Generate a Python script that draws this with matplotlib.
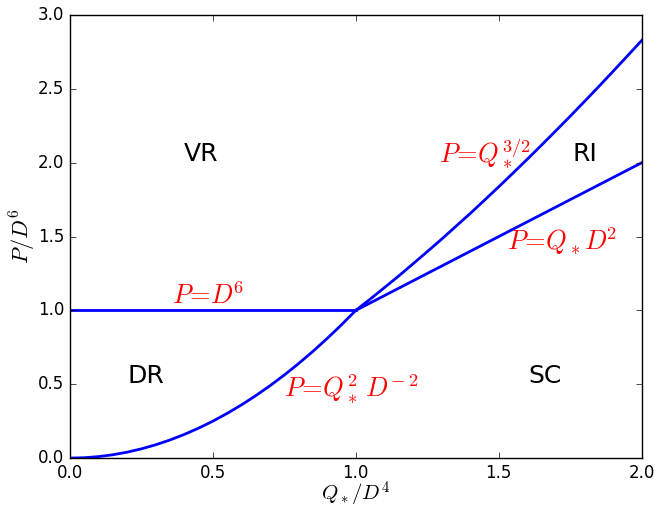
import matplotlib
matplotlib.use("Agg")
import matplotlib.pyplot as plt

plt.style.use("classic")
plt.rcParams["mathtext.fontset"] = "cm"

# boundary P = D^6 (horizontal)
flat_x = [0.0, 1.0]
flat_y = [1.0, 1.0]

# boundary P = Q^2 D^-2
low_x = [0.0, 0.05, 0.1, 0.15, 0.2, 0.25, 0.3, 0.35, 0.4, 0.45, 0.5,
         0.55, 0.6, 0.65, 0.7, 0.75, 0.8, 0.85, 0.9, 0.95, 1.0]
low_y = [0.0, 0.0025, 0.01, 0.0225, 0.04, 0.0625, 0.09, 0.1225, 0.16, 0.2025, 0.25,
         0.3025, 0.36, 0.4225, 0.49, 0.5625, 0.64, 0.7225, 0.81, 0.9025, 1.0]

# boundary P = Q^(3/2)
up_x = [1.0, 1.05, 1.1, 1.15, 1.2, 1.25, 1.3, 1.35, 1.4, 1.45, 1.5,
        1.55, 1.6, 1.65, 1.7, 1.75, 1.8, 1.85, 1.9, 1.95, 2.0]
up_y = [1.0, 1.076, 1.154, 1.233, 1.315, 1.398, 1.482, 1.569, 1.656, 1.746, 1.837,
        1.930, 2.024, 2.120, 2.217, 2.315, 2.415, 2.516, 2.619, 2.723, 2.828]

# boundary P = Q D^2
lin_x = [1.0, 2.0]
lin_y = [1.0, 2.0]

regions = ["VR", "RI", "DR", "SC"]
region_x = [0.46, 1.80, 0.266, 1.66]
region_y = [2.06, 2.06, 0.555, 0.555]

eqs = [r"$P\!=\!Q_*^{3/2}$", r"$P\!=\!Q_*D^{\!2}$", r"$P\!=\!D^{\!6}$", r"$P\!=\!Q_*^2\,D^{\!-2}$"]
eq_x = [1.29, 1.53, 0.357, 0.748]
eq_y = [2.0, 1.41, 1.04, 0.41]

fig = plt.figure(figsize=(6.65, 5.09), dpi=100, facecolor="white")
ax = fig.add_axes([0.105, 0.100, 0.86, 0.8705])

for xs, ys in [(flat_x, flat_y), (low_x, low_y), (up_x, up_y), (lin_x, lin_y)]:
    ax.plot(xs, ys, color="#0000ff", lw=2)

for t, x, y in zip(regions, region_x, region_y):
    ax.text(x, y, t, fontsize=18, ha="center", va="center")

for t, x, y in zip(eqs, eq_x, eq_y):
    ax.text(x, y, t, fontsize=19, color="red", ha="left", va="baseline")

ax.set_xlim(0, 2)
ax.set_ylim(0, 3)
ax.set_xticks([0.0, 0.5, 1.0, 1.5, 2.0])
ax.set_yticks([0.0, 0.5, 1.0, 1.5, 2.0, 2.5, 3.0])
ax.tick_params(labelsize=12, pad=4)
ax.set_xlabel(r"$Q_*/D^4$", fontsize=15, labelpad=-1)
ax.set_ylabel(r"$P/D^6$", fontsize=16, labelpad=0)

fig.savefig("out.png", dpi=100, facecolor="white")
